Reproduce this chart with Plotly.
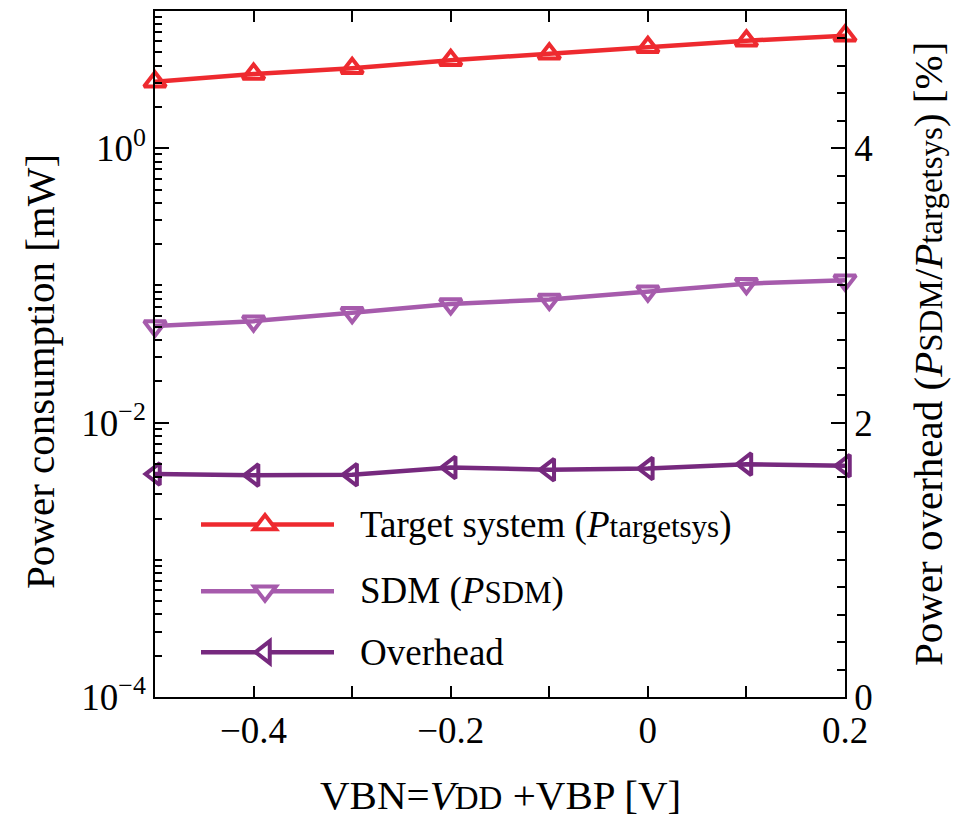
import math
import plotly.graph_objects as go

# ---------------- data ----------------
vbn = [-0.5, -0.4, -0.3, -0.2, -0.1, 0.0, 0.1, 0.2]
p_target = [3.05, 3.47, 3.83, 4.38, 4.88, 5.45, 6.07, 6.60]          # mW
p_sdm = [0.0505, 0.0549, 0.0631, 0.0733, 0.0789, 0.0908, 0.103, 0.109]  # mW
overhead = [1.625, 1.617, 1.620, 1.673, 1.656, 1.665, 1.697, 1.685]    # %

x_tickvals = [-0.5, -0.4, -0.3, -0.2, -0.1, 0.0, 0.1, 0.2]
x_ticktext = ["", "−0.4", "", "−0.2", "", "0", "", "0.2"]
yl_tickvals = [1e-4, 1e-2, 1e0]
yl_ticktext = ["10<sup>−4</sup>", "10<sup>−2</sup>", "10<sup>0</sup>"]
yr_tickvals = [0, 2, 4]

names = ["Target system (<i>P</i><span style='font-size:31px'>targetsys</span>)",
         "SDM (<i>P</i><span style='font-size:31px'>SDM</span>)",
         "Overhead"]

# ---------------- style ----------------
FONT = "Liberation Serif"
C_RED = "#EE2A2F"
C_LIGHT = "#A65BAC"
C_DARK = "#76297E"
LW = 4.5
MLW = 4
MS = 19

W, H = 966, 818
L, R, T, B = 155, 845, 9, 697   # plot area in pixels


def px_x(p):
    return (p - L) / (R - L)


def px_y(p):
    return (B - p) / (B - T)


fig = go.Figure()

fig.add_trace(go.Scatter(
    x=vbn, y=p_target, mode="lines+markers", name="target", showlegend=False,
    line=dict(color=C_RED, width=LW),
    marker=dict(symbol="triangle-up-open", size=MS, color=C_RED, line=dict(width=MLW, color=C_RED)),
    cliponaxis=False, yaxis="y"))
fig.add_trace(go.Scatter(
    x=vbn, y=p_sdm, mode="lines+markers", name="sdm", showlegend=False,
    line=dict(color=C_LIGHT, width=LW),
    marker=dict(symbol="triangle-down-open", size=MS, color=C_LIGHT, line=dict(width=MLW, color=C_LIGHT)),
    cliponaxis=False, yaxis="y"))
fig.add_trace(go.Scatter(
    x=vbn, y=overhead, mode="lines+markers", name="overhead", showlegend=False,
    line=dict(color=C_DARK, width=LW),
    marker=dict(symbol="triangle-left-open", size=MS, color=C_DARK, line=dict(width=MLW, color=C_DARK)),
    cliponaxis=False, yaxis="y2"))

# minor ticks for the log axis
minor_log = [k * 10 ** e for e in range(-4, 1) for k in range(2, 10)] + [1e-3, 1e-1]

tickfont = dict(family=FONT, size=37, color="black")

fig.update_layout(
    width=W, height=H,
    margin=dict(l=L, r=W - R, t=T, b=H - B, pad=0),
    paper_bgcolor="white", plot_bgcolor="white",
    font=dict(family=FONT, color="black"),
    showlegend=False,
    xaxis=dict(
        range=[-0.5, 0.2], tickmode="array", tickvals=x_tickvals, ticktext=x_ticktext,
        ticks="inside", ticklen=11, tickwidth=1.5, tickcolor="black",
        showline=True, linecolor="black", linewidth=1.5, mirror="ticks",
        showgrid=False, zeroline=False, tickfont=tickfont),
    yaxis=dict(
        type="log", range=[-4, 1], tickmode="array", tickvals=yl_tickvals, ticktext=yl_ticktext,
        ticks="inside", ticklen=14, tickwidth=1.5, tickcolor="black",
        minor=dict(tickmode="array", tickvals=minor_log, ticks="inside", ticklen=7,
                   tickwidth=1.5, tickcolor="black", showgrid=False),
        showline=True, linecolor="black", linewidth=1.5,
        showgrid=False, zeroline=False, tickfont=tickfont),
    yaxis2=dict(
        overlaying="y", side="right", range=[0, 5], tickmode="array", tickvals=yr_tickvals,
        ticks="inside", ticklen=14, tickwidth=1.5, tickcolor="black",
        minor=dict(dtick=0.2, tick0=0, ticks="inside", ticklen=8, tickwidth=1.5,
                   tickcolor="black", showgrid=False),
        showline=True, linecolor="black", linewidth=1.5,
        showgrid=False, zeroline=False, tickfont=tickfont),
)

# ---------------- axis titles ----------------
fig.add_annotation(
    text="Power consumption [mW]", textangle=-90, xref="paper", yref="paper",
    x=px_x(40), y=px_y(371), xanchor="center", yanchor="middle", showarrow=False,
    font=dict(family=FONT, size=41, color="black"))
fig.add_annotation(
    text="Power overhead (<i>P</i><span style='font-size:33px'>SDM</span>/<i>P</i>"
         "<span style='font-size:33px'>targetsys</span>) [%]",
    textangle=-90, xref="paper", yref="paper",
    x=px_x(928), y=px_y(353), xanchor="center", yanchor="middle", showarrow=False,
    font=dict(family=FONT, size=41, color="black"))
fig.add_annotation(
    text="VBN=<i>V</i><span style='font-size:33px'>DD</span> +VBP [V]",
    xref="paper", yref="paper", x=px_x(500), y=px_y(795), xanchor="center", yanchor="middle",
    showarrow=False, font=dict(family=FONT, size=41, color="black"))

# ---------------- manual legend ----------------
def tri_path(kind, S):
    r = S / 2.0
    rt = r * 2 / math.sqrt(3)
    rs = r / 2.0
    if kind == "up":
        pts = [(-rt, -rs), (rt, -rs), (0, r)]
    elif kind == "down":
        pts = [(-rt, rs), (rt, rs), (0, -r)]
    else:
        pts = [(-r, 0), (rs, rt), (rs, -rt)]
    return "M{:.2f},{:.2f} L{:.2f},{:.2f} L{:.2f},{:.2f} Z".format(*[c for p in pts for c in p])


leg_rows = [524, 591, 652]
leg_cols = [C_RED, C_LIGHT, C_DARK]
leg_kinds = ["up", "down", "left"]
for yy, col, kind, name in zip(leg_rows, leg_cols, leg_kinds, names):
    fig.add_shape(type="line", xref="paper", yref="paper",
                  x0=px_x(201), x1=px_x(334), y0=px_y(yy), y1=px_y(yy),
                  line=dict(color=col, width=LW))
    fig.add_shape(type="path", xref="paper", yref="paper",
                  xsizemode="pixel", ysizemode="pixel",
                  xanchor=px_x(265), yanchor=px_y(yy),
                  path=tri_path(kind, MS), fillcolor="white",
                  line=dict(color=col, width=MLW))
    fig.add_annotation(text=name, xref="paper", yref="paper", x=px_x(358), y=px_y(yy),
                       xanchor="left", yanchor="middle", showarrow=False,
                       font=dict(family=FONT, size=37, color="black"))

fig.write_html("out.html")
